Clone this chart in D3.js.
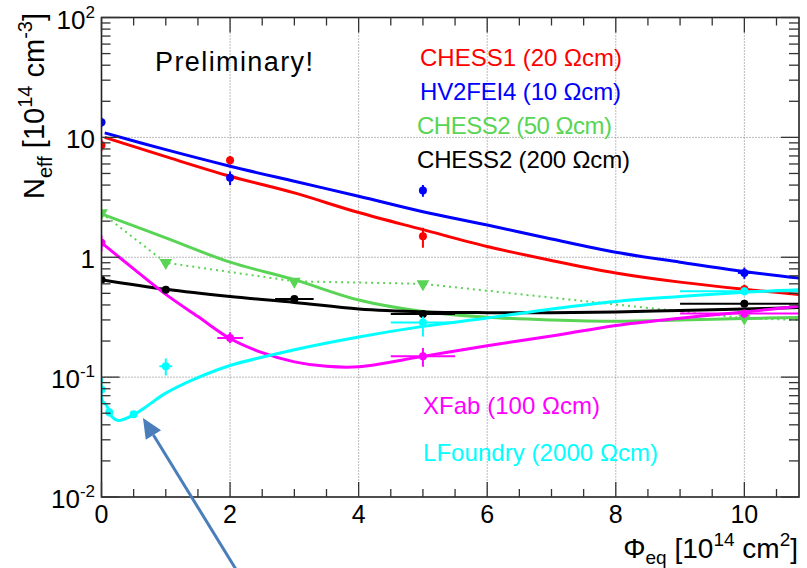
<!DOCTYPE html>
<html><head><meta charset="utf-8">
<script src="https://cdn.jsdelivr.net/npm/d3@7"></script>
<style>
body{margin:0;background:#fff}
svg{display:block}
text{font-family:"Liberation Sans",Arial,Helvetica,sans-serif}
</style>
</head><body><svg id="c" width="807" height="568"></svg>
<script>
// ---------------- data ----------------
const xMajorTicks = [0, 2, 4, 6, 8, 10];
const xGridTicks = [2, 4, 6, 8, 10];
const yGridTicks = [0.1, 1, 10];
const yTickLabels = [
  {v: 100, base: "10", sup: "2"},
  {v: 10, base: "10", sup: ""},
  {v: 1, base: "1", sup: ""},
  {v: 0.1, base: "10", sup: "-1"},
  {v: 0.01, base: "10", sup: "-2"}
];
const seriesNames = ["CHESS1 (20 Ωcm)", "HV2FEI4 (10 Ωcm)", "CHESS2 (50 Ωcm)", "CHESS2 (200 Ωcm)", "XFab (100 Ωcm)", "LFoundry (2000 Ωcm)"];
const seriesColors = ["#ff0000", "#0000ff", "#59d454", "#000000", "#ff00ff", "#00ffff"];

// measured points: [x, y, xErr, yErrLow, yErrHigh]
const chess1Points = [[0, 8.6, 0, 0.9, 1.0], [2, 6.45, 0, 0.55, 0.55], [5, 1.5, 0, 0.3, 0.26], [10, 0.54, 0, 0.05, 0.05]];
const hv2fei4Points = [[0, 13.4, 0, 1.2, 1.2], [2, 4.6, 0, 0.6, 0.6], [5, 3.6, 0, 0.4, 0.4], [10, 0.74, 0.1, 0.08, 0.08]];
const chess2_50Points = [[0, 2.34, 0, 0.05, 0.05], [1, 0.90, 0, 0.03, 0.03], [3, 0.63, 0, 0.02, 0.02], [5, 0.60, 0, 0.02, 0.02], [10, 0.31, 0, 0.03, 0.03]];
const chess2_200Points = [[0, 0.65, 0, 0.02, 0.02], [1, 0.536, 0, 0.015, 0.015], [3, 0.449, 0.3, 0.015, 0.015], [5, 0.336, 0.5, 0.015, 0.015], [10, 0.41, 1, 0.02, 0.02]];
const xfabPoints = [[0, 1.32, 0, 0.2, 0.2], [2, 0.212, 0.2, 0.02, 0.025], [5, 0.149, 0.5, 0.027, 0.026], [10, 0.34, 1, 0.03, 0.015]];
const lfoundryPoints = [[0, 0.079, 0, 0.004, 0.004], [0.12, 0.051, 0.05, 0.004, 0.004], [0.5, 0.049, 0.05, 0.003, 0.003], [1, 0.123, 0.1, 0.02, 0.02], [5, 0.286, 0.5, 0.068, 0.034], [10, 0.52, 1, 0.04, 0.04]];

// fitted curves: [x, y]
const chess1Fit = [[0.05, 10.0], [1, 6.9], [2, 4.74], [3, 3.44], [4, 2.36], [5, 1.70], [6, 1.23], [7, 0.94], [8, 0.74], [9, 0.62], [10, 0.54], [10.85, 0.49]];
const hv2fei4Fit = [[0.05, 10.9], [1, 7.9], [2, 5.75], [3, 4.3], [4, 3.23], [5, 2.40], [6, 1.86], [7, 1.42], [8, 1.1], [9, 0.91], [10, 0.76], [10.85, 0.67]];
const chess2_50Fit = [[0.03, 2.27], [1, 1.45], [2, 0.91], [3, 0.65], [4, 0.44], [5, 0.353], [6, 0.316], [7, 0.30], [8, 0.293], [9, 0.30], [10, 0.308], [10.85, 0.315]];
const chess2_50Link = [[0, 2.34], [1, 0.90], [3, 0.63], [5, 0.60], [10, 0.31], [10.85, 0.30]];
const chess2_200Fit = [[0, 0.65], [1, 0.54], [2, 0.47], [3, 0.42], [4, 0.37], [5, 0.35], [6, 0.345], [7, 0.345], [8, 0.35], [9, 0.36], [10, 0.37], [10.85, 0.38]];
const xfabFit = [[0, 1.32], [0.5, 0.80], [1, 0.49], [1.5, 0.32], [2, 0.21], [2.5, 0.16], [3, 0.134], [3.5, 0.123], [4, 0.122], [5, 0.149], [6, 0.183], [7, 0.22], [8, 0.27], [9, 0.31], [10, 0.35], [10.85, 0.39]];
const lfoundryFit = [[0, 0.098], [0.01, 0.064], [0.08, 0.058], [0.16, 0.047], [0.26, 0.0435], [0.5, 0.0485], [0.7, 0.057], [1.0, 0.0735], [1.48, 0.098], [2, 0.125], [3, 0.169], [4, 0.216], [5, 0.265], [6, 0.311], [7, 0.37], [8, 0.428], [9, 0.47], [10, 0.51], [10.85, 0.536]];

// annotation arrow: [x, y] tail -> tip in data units
const arrowTail = [2.09, 0.0025];
const arrowTip = [0.645, 0.0457];

// ---------------- drawing ----------------
const L = 101.5, R = 799, T = 17.5, B = 497;
const svg = d3.select("#c");
const x = d3.scaleLinear().domain([0, 10.85]).range([L, R]);
const y = d3.scaleLog().domain([0.01, 100]).range([B, T]);

const clipId = "plotclip";
svg.append("defs").append("clipPath").attr("id", clipId)
  .append("rect").attr("x", L).attr("y", T).attr("width", R - L).attr("height", B - T);

// grid
const grid = svg.append("g").attr("stroke", "#777").attr("stroke-width", 1).attr("stroke-dasharray", "1,2");
grid.selectAll("line.gx").data(xGridTicks).join("line")
  .attr("x1", d => x(d)).attr("x2", d => x(d)).attr("y1", T).attr("y2", B);
grid.selectAll("line.gy").data(yGridTicks).join("line")
  .attr("x1", L).attr("x2", R).attr("y1", d => y(d)).attr("y2", d => y(d));

const plot = svg.append("g").attr("clip-path", `url(#${clipId})`);

const fits = [chess1Fit, hv2fei4Fit, chess2_50Fit, chess2_200Fit, xfabFit, lfoundryFit];
const pts = [chess1Points, hv2fei4Points, chess2_50Points, chess2_200Points, xfabPoints, lfoundryPoints];

const smooth = d3.line().x(d => x(d[0])).y(d => y(d[1])).curve(d3.curveCatmullRom.alpha(0.5));

// dotted link for CHESS2 50
plot.append("path").attr("d", d3.line().x(d => x(d[0])).y(d => y(d[1]))(chess2_50Link))
  .attr("fill", "none").attr("stroke", seriesColors[2]).attr("stroke-width", 2).attr("stroke-dasharray", "2,4");

fits.forEach((f, i) => {
  plot.append("path").attr("d", smooth(f)).attr("fill", "none")
    .attr("stroke", seriesColors[i]).attr("stroke-width", 3).attr("stroke-linejoin", "round");
});

// points with error bars
pts.forEach((p, i) => {
  const g = plot.append("g").attr("stroke", seriesColors[i]).attr("fill", seriesColors[i]);
  p.forEach(d => {
    const cx = x(d[0]), cy = y(d[1]);
    if (d[2] > 0) g.append("line").attr("x1", x(d[0] - d[2])).attr("x2", x(d[0] + d[2])).attr("y1", cy).attr("y2", cy).attr("stroke-width", 2);
    g.append("line").attr("x1", cx).attr("x2", cx).attr("y1", y(d[1] - d[3])).attr("y2", y(d[1] + d[4])).attr("stroke-width", 2);
    if (i === 2) {
      g.append("path").attr("d", d3.symbol().type(d3.symbolTriangle).size(70)())
        .attr("transform", `translate(${cx},${cy}) rotate(180)`).attr("stroke", "none");
    } else {
      g.append("circle").attr("cx", cx).attr("cy", cy).attr("r", 4).attr("stroke", "none");
    }
  });
});

// frame
svg.append("rect").attr("x", L).attr("y", T).attr("width", R - L).attr("height", B - T)
  .attr("fill", "none").attr("stroke", "#222").attr("stroke-width", 1.6);

// ticks
const tk = svg.append("g").attr("stroke", "#333").attr("stroke-width", 1.3);
const xMinor = d3.range(0, 10.85 + 1e-9, 0.5).filter(v => !xMajorTicks.includes(v));
xMajorTicks.forEach(v => {
  tk.append("line").attr("x1", x(v)).attr("x2", x(v)).attr("y1", B).attr("y2", B - 15);
  tk.append("line").attr("x1", x(v)).attr("x2", x(v)).attr("y1", T).attr("y2", T + 15);
});
xMinor.forEach(v => {
  tk.append("line").attr("x1", x(v)).attr("x2", x(v)).attr("y1", B).attr("y2", B - 8);
  tk.append("line").attr("x1", x(v)).attr("x2", x(v)).attr("y1", T).attr("y2", T + 8);
});
const yMajor = yTickLabels.map(d => d.v);
const yMinor = [];
[-2, -1, 0, 1].forEach(e => { for (let k = 2; k <= 9; k++) yMinor.push(k * Math.pow(10, e)); });
yMajor.forEach(v => {
  tk.append("line").attr("x1", L).attr("x2", L + 18).attr("y1", y(v)).attr("y2", y(v));
  tk.append("line").attr("x1", R).attr("x2", R - 18).attr("y1", y(v)).attr("y2", y(v));
});
yMinor.forEach(v => {
  tk.append("line").attr("x1", L).attr("x2", L + 9).attr("y1", y(v)).attr("y2", y(v));
  tk.append("line").attr("x1", R).attr("x2", R - 10).attr("y1", y(v)).attr("y2", y(v));
});

// tick labels
svg.append("g").selectAll("text").data(xMajorTicks).join("text")
  .attr("x", d => x(d)).attr("y", 523).attr("text-anchor", "middle")
  .attr("font-size", 25).attr("fill", "#000").text(d => d);

yTickLabels.forEach(d => {
  const t = svg.append("text").attr("x", 95).attr("y", y(d.v) + 11).attr("text-anchor", "end")
    .attr("font-size", 26).attr("fill", "#000");
  t.append("tspan").text(d.base);
  if (d.sup) t.append("tspan").attr("font-size", 17).attr("dy", -11).text(d.sup);
});

// axis titles
const xt = svg.append("text").attr("x", 798).attr("y", 558).attr("text-anchor", "end").attr("font-size", 28).attr("fill", "#000");
xt.append("tspan").text("Φ");
xt.append("tspan").attr("font-size", 19).attr("dy", 6).text("eq");
xt.append("tspan").attr("dy", -6).text(" [10");
xt.append("tspan").attr("font-size", 19).attr("dy", -12).text("14");
xt.append("tspan").attr("dy", 12).text(" cm");
xt.append("tspan").attr("font-size", 19).attr("dy", -12).text("2");
xt.append("tspan").attr("dy", 12).text("]");

const yt = svg.append("text").attr("transform", "translate(44,13) rotate(-90)").attr("text-anchor", "end").attr("font-size", 29).attr("fill", "#000");
yt.append("tspan").text("N");
yt.append("tspan").attr("font-size", 20).attr("dy", 8).text("eff");
yt.append("tspan").attr("dy", -8).text(" [10");
yt.append("tspan").attr("font-size", 20).attr("dy", -12).text("14");
yt.append("tspan").attr("dy", 12).text(" cm");
yt.append("tspan").attr("font-size", 20).attr("dy", -12).text("-3");
yt.append("tspan").attr("dy", 12).text("]");

// texts
svg.append("text").attr("x", 155).attr("y", 71).attr("font-size", 27).attr("fill", "#000")
  .attr("textLength", 158).attr("lengthAdjust", "spacing").text("Preliminary!");

const legendPos = [[420, 66, 202], [420, 100, 201], [417, 134, 195], [417, 168, 213], [423, 414, 177], [423, 461, 235]];
seriesNames.forEach((n, i) => {
  svg.append("text").attr("x", legendPos[i][0]).attr("y", legendPos[i][1]).attr("font-size", 24)
    .attr("fill", seriesColors[i]).attr("textLength", legendPos[i][2]).attr("lengthAdjust", "spacing").text(n);
});

// arrow
const ax0 = x(arrowTail[0]), ay0 = y(arrowTail[1]), ax1 = x(arrowTip[0]), ay1 = y(arrowTip[1]);
const ang = Math.atan2(ay1 - ay0, ax1 - ax0);
const hl = 20, hw = 9;
const bx = ax1 - hl * Math.cos(ang), by = ay1 - hl * Math.sin(ang);
svg.append("line").attr("x1", ax0).attr("y1", ay0).attr("x2", bx).attr("y2", by)
  .attr("stroke", "#4a7ebb").attr("stroke-width", 3);
svg.append("path").attr("d", `M${ax1},${ay1} L${bx + hw * Math.sin(ang)},${by - hw * Math.cos(ang)} L${bx - hw * Math.sin(ang)},${by + hw * Math.cos(ang)} Z`)
  .attr("fill", "#4a7ebb");
</script>
</body></html>
